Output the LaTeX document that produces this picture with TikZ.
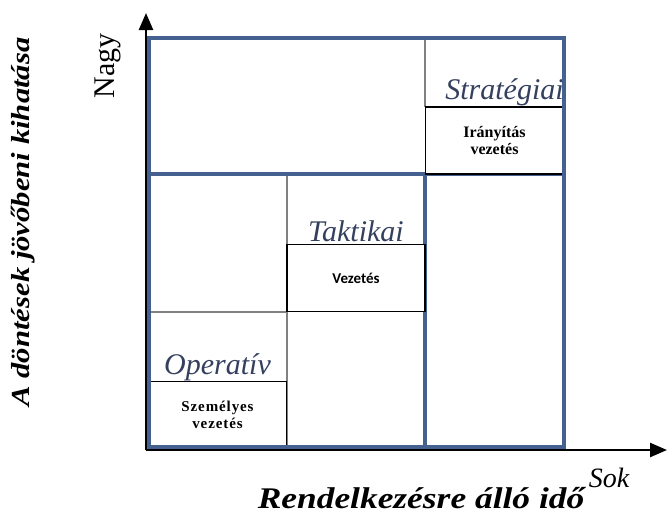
\documentclass[tikz,border=0pt]{standalone}
\usepackage{fontspec}
\setmainfont{Liberation Serif}
\newfontfamily\widefont[FakeStretch=1.18]{Liberation Serif}
\newfontfamily\calibri{Carlito}
\usetikzlibrary{arrows.meta,positioning}
\definecolor{frame}{HTML}{44618F}
\definecolor{divider}{HTML}{808080}
\definecolor{level}{HTML}{34405E}
\tikzset{
  frameline/.style={draw=frame, line width=3.5pt},
  graydiv/.style={draw=divider, line width=2pt},
  toolbox/.style={draw=black, fill=white, line width=1.8pt, minimum width=138pt,
                  minimum height=67pt, inner sep=0pt, align=center},
  levellbl/.style={font=\fontsize{30}{30}\selectfont\itshape, color=level, inner sep=0pt},
  axisar/.style={-{Triangle[length=17pt,width=14pt]}, line width=2.5pt},
  axislbl/.style={font=\widefont\fontsize{30}{30}\selectfont\bfseries\itshape, inner sep=0pt}
}
\begin{document}
\begin{tikzpicture}[x=1pt,y=-1pt]
  \useasboundingbox (0,0) rectangle (668,520);

  % cell dividers
  \draw[graydiv] (425,38) -- (425,107);
  \draw[graydiv] (287,174) -- (287,450);
  \draw[graydiv] (149,312) -- (287,312);
  \draw[frameline] (149,174) -- (564,174);
  \draw[frameline] (425,174) -- (425,447);

  % management levels
  \node[toolbox, font=\fontsize{15}{17}\selectfont\bfseries] (szemelyes) at (217.5,415)
      {\addfontfeature{LetterSpace=6}Személyes\\\addfontfeature{LetterSpace=6}vezetés};
  \node[toolbox, font=\calibri\fontsize{15}{17}\selectfont\bfseries] (vezetes) at (356,278) {Vezetés};
  \node[toolbox, font=\fontsize{16}{17}\selectfont\bfseries] (iranyitas) at (494.5,140.5)
      {Irányítás\\vezetés};

  \node[levellbl, above=0pt of szemelyes] (operativ) {Operatív};
  \node[levellbl, above=2pt of vezetes] (taktikai) {Taktikai};
  \node[levellbl, above=0pt of iranyitas, xshift=10pt] (strategiai) {Stratégiai};

  \draw[frameline] (149,38) rectangle (564,447);

  % axes
  \coordinate (o) at (146,450);
  \coordinate (ytip) at (146,13);
  \coordinate (xtip) at (667,450);
  \draw[axisar] (o) -- (ytip);
  \draw[axisar] (o) -- (xtip);

  \node[font=\fontsize{30}{30}\selectfont, rotate=90] (nagy) at (108,66) {Nagy};
  \node[font=\fontsize{28}{28}\selectfont\itshape] (sok) at (609,478) {Sok};
  \node[axislbl] (xlbl) at (421,498) {Rendelkezésre álló idő};
  \node[axislbl, font=\widefont\fontsize{26}{26}\selectfont\bfseries\itshape, rotate=90] (ylbl)
      at (23,222) {A döntések jövőbeni kihatása};
\end{tikzpicture}
\end{document}
